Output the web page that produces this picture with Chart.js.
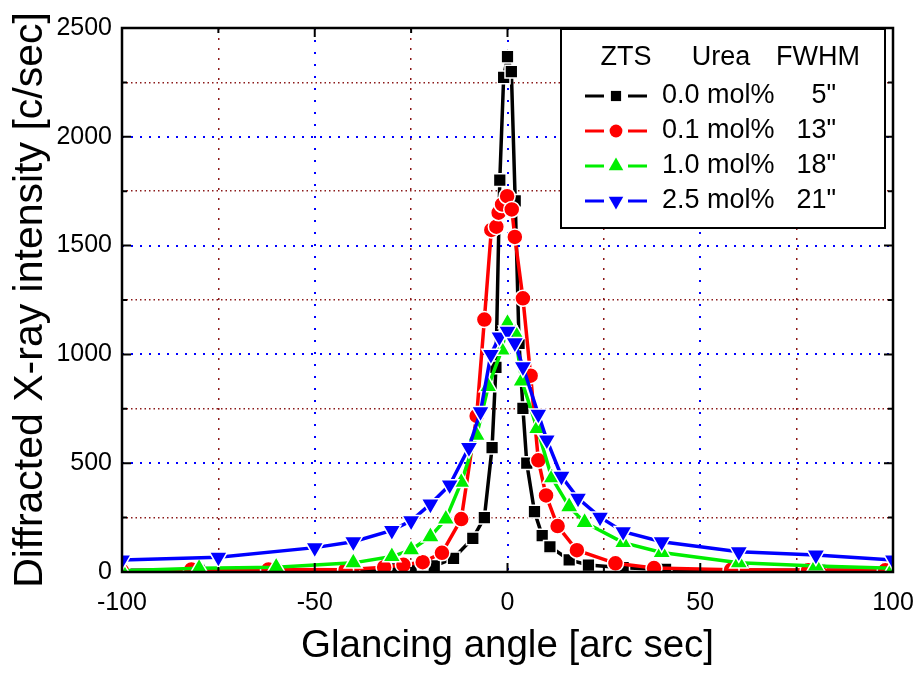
<!DOCTYPE html>
<html>
<head>
<meta charset="utf-8">
<script src="https://cdn.jsdelivr.net/npm/chart.js@4.4.1/dist/chart.umd.min.js"></script>
<style>
  body { margin: 0; background: #fff; }
  #wrap { width: 920px; height: 675px; }
</style>
</head>
<body>
<div id="wrap"><canvas id="rocking" width="920" height="675"></canvas></div>
<script>
// rocking curves, ZTS crystals grown with urea
const legendHeader = ["ZTS", "Urea", "FWHM"];
const seriesNames = ["0.0 mol%", "0.1 mol%", "1.0 mol%", "2.5 mol%"];
const fwhmLabels = ['5"', '13"', '18"', '21"'];

const angles0 = [-100, -80, -60, -40, -30, -25, -19, -14, -9, -6, -4, -3, -2, -1, 0, 1, 2, 3, 4, 5, 7, 9, 11, 16, 21, 30, 41, 61, 81, 100];
const counts0 = [8, 8, 8, 10, 14, 20, 28, 63, 155, 250, 572, 940, 1801, 2273, 2368, 2299, 1706, 1051, 752, 500, 277, 167, 116, 56, 32, 20, 12, 8, 8, 8];

const angles1 = [-100, -82, -62, -42, -32, -27, -22, -17, -12, -8, -6, -4.2, -2.9, -2.3, -1.4, -0.1, 1.1, 1.9, 4, 6, 8, 10, 13, 18, 28, 38, 58, 78, 98];
const counts1 = [5, 12, 12, 10, 22, 33, 45, 88, 243, 717, 1160, 1572, 1587, 1651, 1689, 1727, 1666, 1540, 1258, 902, 513, 352, 211, 100, 40, 18, 10, 8, 8];

const angles2 = [-100, -80, -60, -40, -30, -25, -20, -16, -12, -8, -5, -1.5, 0, 2, 3.7, 7.7, 11.5, 16, 20, 30, 40, 60, 80, 100];
const counts2 = [6, 17, 22, 42, 71, 102, 162, 243, 412, 628, 852, 1020, 1143, 1097, 878, 660, 433, 300, 228, 135, 90, 43, 28, 17];

const angles3 = [-100, -75, -50, -40, -30, -25, -20, -15, -10, -7, -4.3, -2.1, 0, 1.9, 4, 8, 10.2, 14, 18.3, 24, 30, 40, 60, 80, 100];
const counts3 = [55, 68, 112, 139, 191, 235, 312, 400, 572, 737, 1000, 1080, 1106, 1053, 943, 725, 607, 440, 339, 252, 185, 139, 93, 78, 55];

const xTicks = [-100, -75, -50, -25, 0, 25, 50, 75, 100];
const yTicks = [0, 250, 500, 750, 1000, 1250, 1500, 1750, 2000, 2250, 2500];

const colors = ["#000000", "#ff0000", "#00ee00", "#0000ff"];
const markers = ["rect", "circle", "triangle", "triangle"];
const markerRot = [0, 0, 0, 180];
const markerSize = [9, 8, 10.5, 10.5];

function pairs(xs, ys) {
    return xs.map((x, i) => ({ x: x, y: ys[i] }));
}

const allAngles = [angles0, angles1, angles2, angles3];
const allCounts = [counts0, counts1, counts2, counts3];

const datasets = seriesNames.map((name, i) => ({
    label: name,
    data: pairs(allAngles[i], allCounts[i]),
    borderColor: colors[i],
    backgroundColor: colors[i],
    borderWidth: 3.5,
    pointStyle: markers[i],
    rotation: markerRot[i],
    pointRadius: markerSize[i],
    pointBorderColor: "#ffffff",
    pointBorderWidth: 1.5,
    pointBackgroundColor: colors[i],
    tension: 0,
    clip: 0,
    order: 3 - i
}));

const isMajorY = v => v % 500 === 0;
const isMajorX = v => v % 50 === 0;

// inward tick marks + frame
const framePlugin = {
    id: "frame",
    afterDatasetsDraw(chart) {
        const ctx = chart.ctx;
        const a = chart.chartArea;
        const xs = chart.scales.x, ys = chart.scales.y;
        ctx.save();
        ctx.strokeStyle = "#000";
        ctx.lineWidth = 2;
        xTicks.forEach(v => {
            const px = xs.getPixelForValue(v);
            const len = isMajorX(v) ? 9 : 5;
            ctx.beginPath();
            ctx.moveTo(px, a.bottom); ctx.lineTo(px, a.bottom - len);
            ctx.moveTo(px, a.top); ctx.lineTo(px, a.top + len);
            ctx.stroke();
        });
        yTicks.forEach(v => {
            const py = ys.getPixelForValue(v);
            const len = isMajorY(v) ? 9 : 5;
            ctx.beginPath();
            ctx.moveTo(a.left, py); ctx.lineTo(a.left + len, py);
            ctx.moveTo(a.right, py); ctx.lineTo(a.right - len, py);
            ctx.stroke();
        });
        ctx.lineWidth = 2.5;
        ctx.strokeRect(a.left, a.top, a.right - a.left, a.bottom - a.top);
        ctx.restore();
    }
};

// legend box with header row and FWHM column
const tableLegend = {
    id: "tableLegend",
    afterDatasetsDraw(chart) {
        const ctx = chart.ctx;
        const box = { left: 561, top: 29, right: 885, bottom: 228 };
        ctx.save();
        ctx.fillStyle = "#fff";
        ctx.fillRect(box.left, box.top, box.right - box.left, box.bottom - box.top);
        ctx.strokeStyle = "#000";
        ctx.lineWidth = 2;
        ctx.strokeRect(box.left, box.top, box.right - box.left, box.bottom - box.top);

        ctx.fillStyle = "#000";
        ctx.font = "27px 'Liberation Sans', Arial, sans-serif";
        ctx.textBaseline = "middle";
        ctx.textAlign = "center";
        ctx.fillText(legendHeader[0], 626, 58);
        ctx.fillText(legendHeader[1], 721, 58);
        ctx.fillText(legendHeader[2], 818, 58);

        seriesNames.forEach((name, i) => {
            const y = 96 + i * 35;
            ctx.strokeStyle = colors[i];
            ctx.lineWidth = 3;
            ctx.beginPath();
            ctx.moveTo(585, y); ctx.lineTo(604, y);
            ctx.moveTo(628, y); ctx.lineTo(647, y);
            ctx.stroke();
            if (Chart.helpers && Chart.helpers.drawPoint) {
                ctx.fillStyle = colors[i];
                ctx.strokeStyle = colors[i];
                ctx.lineWidth = 1;
                Chart.helpers.drawPoint(ctx, {
                    pointStyle: markers[i],
                    rotation: markerRot[i],
                    radius: markerSize[i] * 0.8,
                    borderWidth: 0
                }, 616, y);
            }
            ctx.fillStyle = "#000";
            ctx.textAlign = "left";
            ctx.fillText(name, 662, y);
            ctx.textAlign = "right";
            ctx.fillText(fwhmLabels[i], 836, y);
        });
        ctx.restore();
    }
};

Chart.defaults.font.family = "'Liberation Sans', Arial, sans-serif";
Chart.defaults.color = "#000";

new Chart(document.getElementById("rocking"), {
    type: "line",
    data: { datasets: datasets },
    options: {
        responsive: false,
        animation: false,
        layout: { padding: { top: 28, right: 27, left: 0, bottom: 0 } },
        plugins: {
            legend: { display: false },
            tooltip: { enabled: false }
        },
        scales: {
            x: {
                type: "linear",
                min: -100,
                max: 100,
                afterFit(scale) {
                    scale.height = 103;
                    scale.paddingLeft = 0;
                    scale.paddingRight = 0;
                },
                afterBuildTicks(scale) { scale.ticks = xTicks.map(v => ({ value: v })); },
                ticks: {
                    autoSkip: false,
                    maxRotation: 0,
                    padding: 16,
                    font: { size: 25 },
                    callback: v => isMajorX(v) ? String(v) : ""
                },
                grid: {
                    drawTicks: false,
                    color: c => isMajorX(c.tick.value) ? "#0000ff" : "#8b1a1a",
                    lineWidth: c => isMajorX(c.tick.value) ? 2 : 1.5
                },
                border: {
                    display: false,
                    dash: c => isMajorX(c.tick.value) ? [2, 10] : [2, 8]
                },
                title: {
                    display: true,
                    text: "Glancing angle [arc sec]",
                    font: { size: 38.5 },
                    padding: { top: 6, bottom: 6 }
                }
            },
            y: {
                type: "linear",
                min: 0,
                max: 2500,
                afterFit(scale) {
                    scale.width = 122;
                    scale.paddingTop = 0;
                    scale.paddingBottom = 0;
                },
                afterBuildTicks(scale) { scale.ticks = yTicks.map(v => ({ value: v })); },
                ticks: {
                    autoSkip: false,
                    padding: 10,
                    font: { size: 25 },
                    callback: v => isMajorY(v) ? String(v) : ""
                },
                grid: {
                    drawTicks: false,
                    color: c => isMajorY(c.tick.value) ? "#0000ff" : "#8b1a1a",
                    lineWidth: c => isMajorY(c.tick.value) ? 2 : 1.5
                },
                border: {
                    display: false,
                    dash: c => isMajorY(c.tick.value) ? [2, 7] : [1.5, 3]
                },
                title: {
                    display: true,
                    text: "Diffracted X-ray intensity [c/sec]",
                    font: { size: 41 },
                    padding: { top: 6, bottom: 4 }
                }
            }
        }
    },
    plugins: [framePlugin, tableLegend]
});
</script>
</body>
</html>
